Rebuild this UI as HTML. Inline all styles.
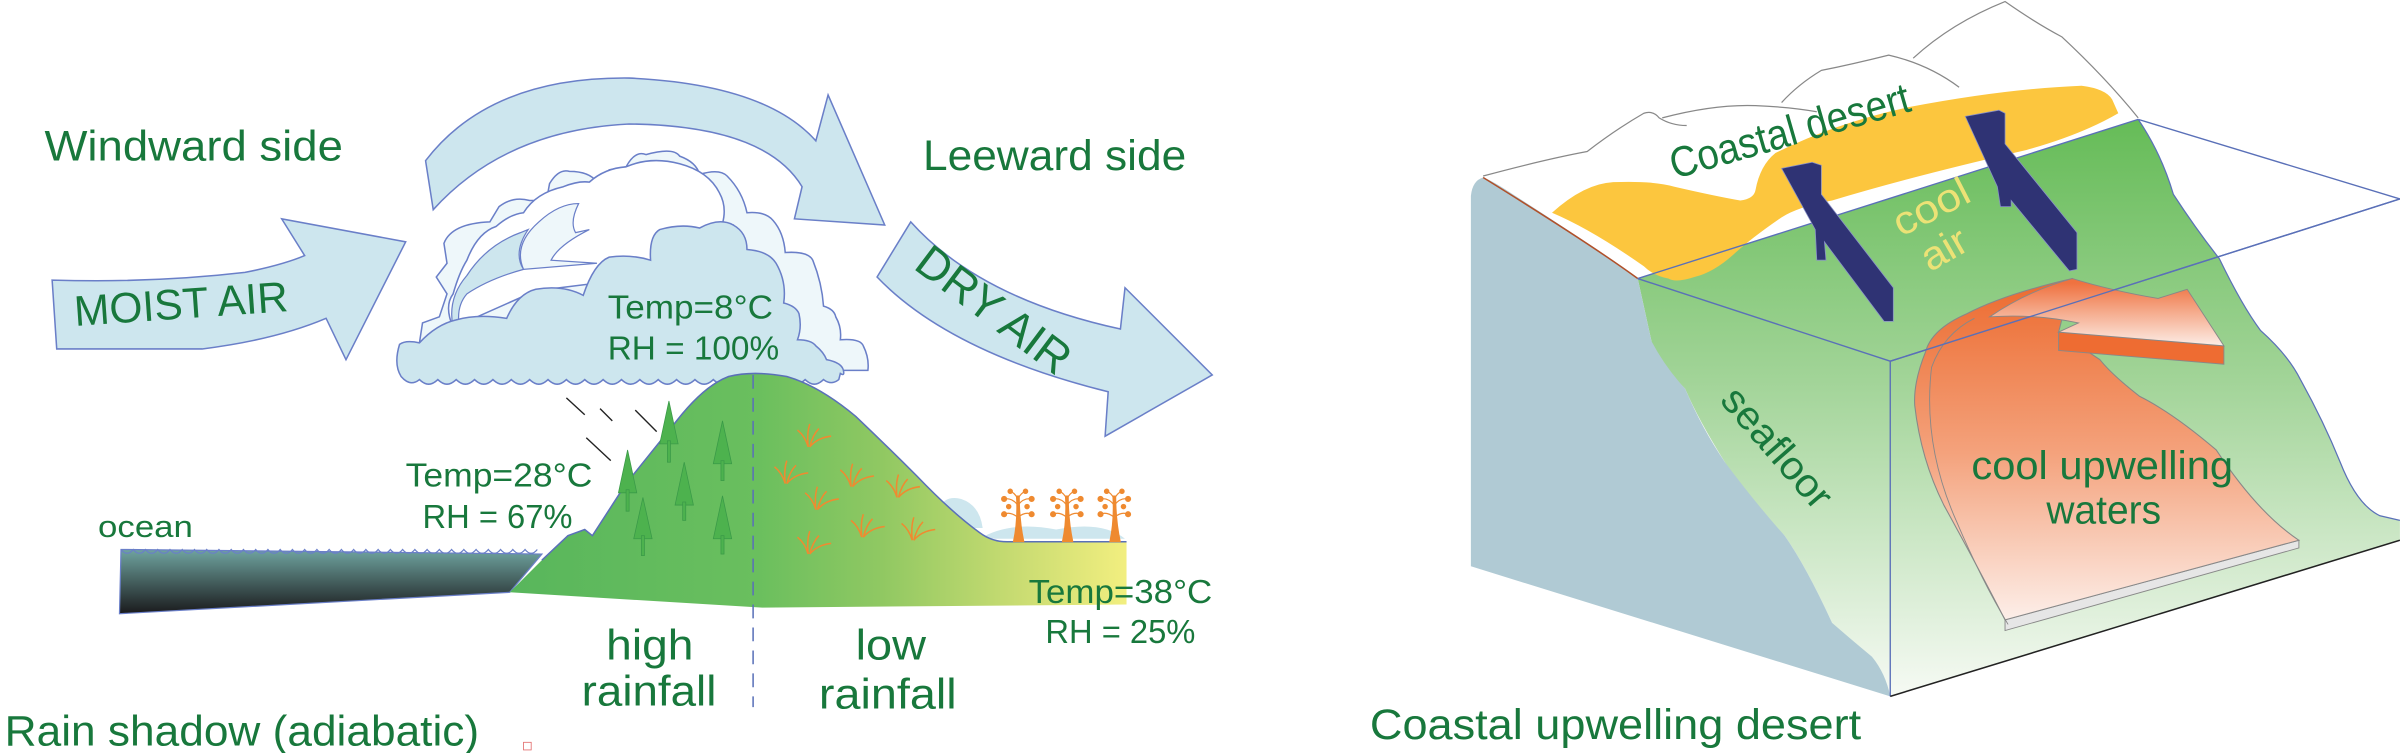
<!DOCTYPE html>
<html><head><meta charset="utf-8"><style>
html,body{margin:0;padding:0;background:#fff;}
svg{display:block;}
text{font-family:"Liberation Sans",sans-serif;}
</style></head><body>
<svg width="2400" height="753" viewBox="0 0 1568 492" xmlns="http://www.w3.org/2000/svg">
<defs>
<linearGradient id="ocean" x1="0" y1="0" x2="0" y2="1"><stop offset="0" stop-color="#6fa4a0"/><stop offset="1" stop-color="#1a1a1c"/></linearGradient>
<linearGradient id="mtn" gradientUnits="userSpaceOnUse" x1="333" y1="0" x2="738" y2="0"><stop offset="0" stop-color="#58b65c"/><stop offset="0.4" stop-color="#6abf5e"/><stop offset="0.6" stop-color="#90c862"/><stop offset="0.82" stop-color="#c9dc72"/><stop offset="1" stop-color="#f3ef80"/></linearGradient>
<linearGradient id="grn" gradientUnits="userSpaceOnUse" x1="0" y1="80" x2="0" y2="455"><stop offset="0" stop-color="#66bc58"/><stop offset="0.45" stop-color="#a2d498"/><stop offset="1" stop-color="#f6faf4"/></linearGradient>
<linearGradient id="plume" gradientUnits="userSpaceOnUse" x1="0" y1="182" x2="0" y2="410"><stop offset="0" stop-color="#ec6a2e"/><stop offset="0.5" stop-color="#f4a27c"/><stop offset="1" stop-color="#fdf2ee"/></linearGradient>
<linearGradient id="arrw" gradientUnits="userSpaceOnUse" x1="0" y1="185" x2="0" y2="228"><stop offset="0" stop-color="#ef7240"/><stop offset="1" stop-color="#fdf3ee"/></linearGradient>
<g id="gr" fill="none" stroke="#f08a30" stroke-width="1"><path d="M0,0 Q-2,-7 -7,-11 M0,0 Q-1,-9 1,-15 M1,0 Q3,-8 7,-12 M1,0 Q6,-6 15,-7"/></g>
<g id="ot" fill="#ef8a30" stroke="#ef8a30">
<path d="M-3,354 Q0,340 -1,324 L1,324 Q1,340 4,354 Z" stroke-width="0.5"/>
<path d="M0,330 Q-4,325 -9,326 M0,330 Q4,325 9,326 M0,338 Q-5,334 -9,336 M0,338 Q5,334 9,336 M0,326 Q-2,322 -5,321 M0,326 Q2,322 5,321" fill="none" stroke-width="0.8"/>
<circle cx="-9" cy="326" r="1.5"/><circle cx="9" cy="326" r="1.5"/><circle cx="-9" cy="336" r="1.5"/><circle cx="9" cy="336" r="1.5"/><circle cx="-5" cy="321" r="1.3"/><circle cx="5" cy="321" r="1.3"/><circle cx="-6" cy="331" r="1.3"/><circle cx="6" cy="331" r="1.3"/>
</g>
</defs>

<!-- ===== LEFT PANEL ===== -->
<g fill="#cde6ee" stroke="#6a7fc8" stroke-width="1">
<path d="M34,183 Q100,185 160,178 Q185,173 199,167 L184,143 L265,158 L226,235 L213,208 Q180,222 132,228 L37,228 Z"/>
<path d="M283,137 L278,105 Q320,50 411,51 Q500,55 533,92 L541,62 L578,147 L519,143 L524,122 Q500,82 411,81 Q330,85 283,137 Z"/>
<path d="M595,145 Q640,195 732,215 L735,188 L792,245 L722,285 L724,256 Q620,230 573,181 Z"/>
</g>

<path d="M274,224 L276,211 L287,207 L292,192 L285,181 L292,172 L290,159 Q295,146 320,145 L326,135 Q335,128 346,131 L357,131 L359,120 Q365,110 372,112 Q385,112 390,119 L398,111 L409,109 Q415,98 422,101 Q440,96 444,102 Q455,106 457,114 Q470,110 475,115 Q485,125 488,139 Q500,138 505,144 Q512,152 513,165 Q528,164 531,170 Q537,185 538,200 Q545,202 546,207 Q550,214 549,222 Q562,221 564,226 Q568,234 567,242 L551,242 Z" fill="#eef7fa" stroke="#6a7fc8" stroke-width="1"/>
<path d="M296,214 Q290,200 296,192 Q300,178 305,170 Q312,152 324,148 Q333,140 342,139 Q350,126 368,122 Q378,118 385,119 Q395,110 409,109 Q425,102 444,107 Q463,112 470,126 Q475,135 472,146 L479,147 L470,175 L350,190 Z" fill="#ffffff" stroke="#6a7fc8" stroke-width="1"/>
<path d="M296,214 Q292,195 305,180 Q318,160 340,152 L345,150 Q335,165 342,176 Q320,182 305,192 Q298,200 300,213 Z" fill="#cde6ee" stroke="#6a7fc8" stroke-width="0.8"/>
<path d="M342,176 Q335,160 352,145 Q365,133 378,133 Q372,145 376,152 L385,150 Q365,160 360,170 L390,172 Z" fill="#eef7fa" stroke="#6a7fc8" stroke-width="0.8"/>
<path d="M261,225 Q265,222 274,224 Q285,212 298,209 Q312,205 331,208 Q338,192 350,189 Q368,186 381,193 Q388,172 398,168 Q412,166 425,170 Q424,154 431,150 Q445,146 457,149 Q470,142 479,147 Q488,152 488,163 Q502,164 507,172 Q514,184 512,198 Q520,200 522,205 Q524,214 521,222 Q530,222 533,226 Q538,230 540,235 Q550,237 551,242 Q552,246 549,244 L548,248 Q543,252 538,248 Q532,254 526,248 Q520,254 514,248 Q508,254 502,248 Q496,254 490,248 Q484,254 478,248 Q472,254 466,248 Q460,254 454,248 Q448,254 442,248 Q436,254 430,248 Q424,254 418,248 Q412,254 406,248 Q400,254 394,248 Q388,254 382,248 Q376,254 370,248 Q364,254 358,248 Q352,254 346,248 Q340,254 334,248 Q328,254 322,248 Q316,254 310,248 Q304,254 298,248 Q292,254 286,248 Q280,254 274,248 Q268,253 262,246 Q257,238 261,225 Z" fill="#cde6ee" stroke="#6a7fc8" stroke-width="1"/>

<g stroke="#222" stroke-width="0.9">
<line x1="370" y1="260" x2="382" y2="271"/><line x1="392" y1="267" x2="400" y2="275"/><line x1="415" y1="268" x2="429" y2="282"/><line x1="383" y1="286" x2="399" y2="301"/>
</g>

<path d="M79,359 L354,362 L333,387 L78,401 Z" fill="url(#ocean)" stroke="#6a7fc8" stroke-width="0.8"/>
<path d="M79,359 q4,5 8,0 q4,5 8,0 q4,5 8,0 q4,5 8,0 q4,5 8,0 q4,5 8,0 q4,5 8,0 q4,5 8,0 q4,5 8,0 q4,5 8,0 q4,5 8,0 q4,5 8,0 q4,5 8,0 q4,5 8,0 q4,5 8,0 q4,5 8,0 q4,5 8,0 q4,5 8,0 q4,5 8,0 q4,5 8,0 q4,5 8,0 q4,5 8,0 q4,5 8,0 q4,5 8,0 q4,5 8,0 q4,5 8,0 q4,5 8,0 q4,5 8,0 q4,5 8,0 q4,5 8,0 q4,5 8,0 q4,5 8,0 q4,5 8,0 q4,5 8,0" fill="none" stroke="#6a7fc8" stroke-width="0.8"/>

<path d="M610,345 Q612,322 628,326 Q640,330 642,345 Z" fill="#cde6ee"/>
<path d="M640,352 Q660,340 690,346 Q720,340 735,352 Z" fill="#cde6ee"/>

<path d="M333,387 L354,366 L371,350 L382,346 L387,350 L409,316 L442,275 Q460,252 476,246 Q492,242 514,246 Q535,252 559,272 Q580,292 599,311 Q622,335 640,348 Q648,354 658,354 L736,354 L736,395 L498,397 Z" fill="url(#mtn)"/>
<path d="M354,366 L371,350 L382,346 L387,350 L409,316 L442,275 Q460,252 476,246 Q492,242 514,246 Q535,252 559,272 Q580,292 599,311 Q622,335 640,348 Q648,354 658,354 L736,354" fill="none" stroke="#5a70b8" stroke-width="1"/>
<line x1="492" y1="245" x2="492" y2="462" stroke="#5a70b8" stroke-width="1" stroke-dasharray="9,6"/>

<g fill="#4db24e" stroke="#3a9a48" stroke-width="0.5">
<path d="M437,262 L431,290 L443,290 Z"/><rect x="436" y="288" width="2" height="14"/>
<path d="M410,294 L404,322 L416,322 Z"/><rect x="409" y="320" width="2" height="14"/>
<path d="M420,325 L414,352 L426,352 Z"/><rect x="419" y="350" width="2" height="13"/>
<path d="M447,302 L441,330 L453,330 Z"/><rect x="446" y="328" width="2" height="12"/>
<path d="M472,275 L466,303 L478,303 Z"/><rect x="471" y="301" width="2" height="13"/>
<path d="M472,324 L466,352 L478,352 Z"/><rect x="471" y="350" width="2" height="12"/>
</g>
<use href="#gr" x="528" y="292"/><use href="#gr" x="513" y="316"/><use href="#gr" x="556" y="318"/><use href="#gr" x="586" y="325"/><use href="#gr" x="533" y="333"/><use href="#gr" x="563" y="351"/><use href="#gr" x="596" y="353"/><use href="#gr" x="528" y="362"/>
<use href="#ot" x="665"/><use href="#ot" x="697"/><use href="#ot" x="728"/>

<g fill="#18783c">
<text x="29" y="105" font-size="28" textLength="195" lengthAdjust="spacingAndGlyphs">Windward side</text>
<text x="603" y="111" font-size="28" textLength="172" lengthAdjust="spacingAndGlyphs">Leeward side</text>
<text transform="translate(49,213) rotate(-4)" font-size="28" textLength="140" lengthAdjust="spacingAndGlyphs">MOIST AIR</text>
<text transform="translate(596,175) rotate(37)" font-size="30" textLength="118" lengthAdjust="spacingAndGlyphs">DRY AIR</text>
<text x="397" y="208" font-size="22" textLength="108" lengthAdjust="spacingAndGlyphs">Temp=8°C</text>
<text x="397" y="235" font-size="22" textLength="112" lengthAdjust="spacingAndGlyphs">RH = 100%</text>
<text x="265" y="318" font-size="22" textLength="122" lengthAdjust="spacingAndGlyphs">Temp=28°C</text>
<text x="276" y="345" font-size="22" textLength="98" lengthAdjust="spacingAndGlyphs">RH = 67%</text>
<text x="64" y="351" font-size="20" textLength="62" lengthAdjust="spacingAndGlyphs">ocean</text>
<text x="672" y="394" font-size="22" textLength="120" lengthAdjust="spacingAndGlyphs">Temp=38°C</text>
<text x="683" y="420" font-size="22" textLength="98" lengthAdjust="spacingAndGlyphs">RH = 25%</text>
<text x="396" y="431" font-size="28" textLength="57" lengthAdjust="spacingAndGlyphs">high</text>
<text x="380" y="461" font-size="28" textLength="88" lengthAdjust="spacingAndGlyphs">rainfall</text>
<text x="559" y="431" font-size="28" textLength="46" lengthAdjust="spacingAndGlyphs">low</text>
<text x="535" y="463" font-size="28" textLength="90" lengthAdjust="spacingAndGlyphs">rainfall</text>
<text x="3" y="487" font-size="28" textLength="310" lengthAdjust="spacingAndGlyphs">Rain shadow (adiabatic)</text>
</g>
<rect x="342" y="485" width="5" height="5" fill="none" stroke="#e06060" stroke-width="0.5"/>

<!-- ===== RIGHT PANEL ===== -->
<path d="M1070,182 L1397,78 Q1412,100 1420,127 Q1435,150 1450,169 Q1465,200 1477,216 Q1495,232 1503,248 Q1518,275 1529,302 Q1540,330 1555,337 L1568,340 L1568,353 L1235,455 L1223,429 Q1205,415 1197,407 Q1180,370 1166,350 Q1140,325 1127,302 Q1110,275 1101,254 Q1082,235 1079,223 Z" fill="url(#grn)"/>
<path d="M1397,78 Q1412,100 1420,127 Q1435,150 1450,169 Q1465,200 1477,216 Q1495,232 1503,248 Q1518,275 1529,302 Q1540,330 1555,337 L1568,340" fill="none" stroke="#5a70b8" stroke-width="0.8"/>
<path d="M969,116 Q975,118 990,128 Q1040,160 1070,182 Q1075,205 1079,223 Q1088,240 1101,254 Q1112,280 1127,302 Q1148,330 1166,350 Q1180,370 1197,407 Q1212,420 1223,429 Q1232,440 1235,455 L961,370 L961,128 Q962,118 969,116 Z" fill="#b0cad4"/>
<path d="M969,116 Q1040,160 1070,182" fill="none" stroke="#b0502a" stroke-width="1"/>
<path d="M1014,139 Q1035,120 1054,119 Q1080,118 1094,122 Q1120,128 1137,131 Q1146,130 1147,124 Q1150,108 1160,100 Q1200,80 1247,70 Q1310,58 1360,56 Q1376,58 1380,65 L1384,74 Q1360,88 1324,98 Q1250,115 1197,131 Q1175,135 1164,142 Q1145,155 1134,165 Q1120,178 1107,181 Q1095,185 1090,182 Q1080,180 1074,174 Q1040,150 1014,139 Z" fill="#fcc63e"/>
<g fill="none" stroke="#888" stroke-width="0.8">
<path d="M969,115 Q1010,104 1037,99 Q1055,85 1074,74 Q1080,72 1084,77 Q1092,82 1102,82 M1086,77 Q1120,68 1147,69 Q1170,70 1187,73"/>
<path d="M1164,67 Q1175,55 1190,46 Q1210,42 1234,36 Q1260,42 1280,57"/>
<path d="M1250,38 Q1275,15 1310,1 Q1330,15 1347,24 Q1375,50 1397,77"/>
</g>
<g stroke="#5a70b8" stroke-width="0.9" fill="none">
<line x1="1070" y1="182" x2="1397" y2="78"/>
<line x1="1397" y1="78" x2="1568" y2="130"/>
<line x1="1070" y1="182" x2="1235" y2="236"/>
<line x1="1235" y1="236" x2="1568" y2="130"/>
<line x1="1235" y1="236" x2="1235" y2="455"/>
</g>
<line x1="1235" y1="455" x2="1568" y2="353" stroke="#222" stroke-width="1"/>

<path d="M1310,405 L1502,353 L1502,358 L1310,412 Z" fill="#e6e6e6" stroke="#888" stroke-width="0.6"/>
<path d="M1354,182 Q1310,192 1285,205 Q1262,215 1258,230 Q1250,250 1251,265 Q1255,300 1270,330 Q1292,370 1310,405 L1502,353 Q1475,335 1448,294 Q1420,270 1398,259 Q1380,245 1372,235 L1345,217 Z" fill="url(#plume)" stroke="#888" stroke-width="0.7"/>
<path d="M1290,208 Q1270,218 1262,240 Q1256,290 1278,340 Q1295,380 1312,408" fill="none" stroke="#888" stroke-width="0.6"/>
<path d="M1345,217 L1345,229 L1453,238 L1453,226 Z" fill="#ee6c32" stroke="#888" stroke-width="0.6"/>
<path d="M1354,182 Q1380,190 1410,195 L1429,189 L1453,226 L1345,217 L1358,211 Q1330,205 1300,207 Q1325,190 1354,182 Z" fill="url(#arrw)" stroke="#888" stroke-width="0.6"/>
<line x1="1235" y1="236" x2="1568" y2="130" stroke="#5a70b8" stroke-width="0.9"/>

<g fill="#2f3374" stroke="#8890c8" stroke-width="0.5">
<path d="M1164,110 L1184,106 L1190,108 L1190,127 L1237,188 L1237,210 L1231,210 L1192,158 L1193,170 L1187,170 L1186,150 Z"/>
<path d="M1284,76 L1306,72 L1310,74 L1310,94 L1357,152 L1357,176 L1352,177 L1314,131 L1314,135 L1307,135 L1305,122 Z"/>
</g>

<g fill="#18783c">
<text transform="translate(1094,117) rotate(-16)" font-size="28" textLength="162" lengthAdjust="spacingAndGlyphs">Coastal desert</text>
<text transform="translate(1123,262) rotate(49)" font-size="26" textLength="96" lengthAdjust="spacingAndGlyphs">seafloor</text>
<text x="1288" y="313" font-size="26" textLength="171" lengthAdjust="spacingAndGlyphs">cool upwelling</text>
<text x="1337" y="342" font-size="26" textLength="75" lengthAdjust="spacingAndGlyphs">waters</text>
<text x="895" y="483" font-size="28" textLength="321" lengthAdjust="spacingAndGlyphs">Coastal upwelling desert</text>
</g>
<g fill="#ece276">
<text transform="translate(1242,155) rotate(-27)" font-size="26" textLength="53" lengthAdjust="spacingAndGlyphs">cool</text>
<text transform="translate(1261,178) rotate(-30)" font-size="26" textLength="31" lengthAdjust="spacingAndGlyphs">air</text>
</g>
</svg>
</body></html>
